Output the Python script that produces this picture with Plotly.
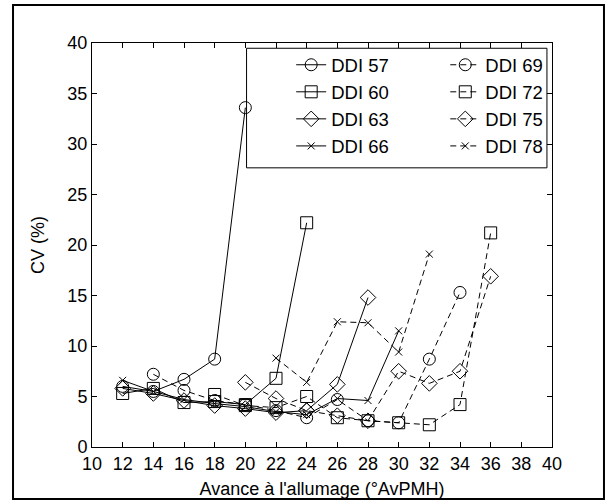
import plotly.graph_objects as go

# Spark advance (°AvPMH) and cyclic variability CV (%) for each injection timing (DDI)
adv_57 = [12, 14, 16, 18, 20]
cv_57 = [6.0, 5.5, 6.7, 8.7, 33.6]

adv_60 = [12, 14, 16, 18, 20, 22, 24]
cv_60 = [5.3, 5.8, 4.4, 4.5, 4.2, 6.8, 22.2]

adv_63 = [12, 14, 16, 18, 20, 22, 24, 26, 28]
cv_63 = [5.8, 5.3, 4.6, 4.1, 3.8, 3.4, 3.6, 6.2, 14.8]

adv_66 = [12, 14, 16, 18, 20, 22, 24, 26, 28, 30]
cv_66 = [6.6, 5.5, 4.7, 4.3, 4.0, 3.5, 3.2, 4.8, 4.6, 11.5]

adv_69 = [14, 16, 18, 20, 22, 24, 26, 28, 30, 32, 34]
cv_69 = [7.2, 5.6, 4.6, 4.2, 3.6, 2.9, 4.7, 2.6, 2.4, 8.7, 15.3]

adv_72 = [18, 20, 22, 24, 26, 28, 30, 32, 34, 36]
cv_72 = [5.2, 4.1, 3.9, 5.0, 2.9, 2.6, 2.4, 2.2, 4.2, 21.2]

adv_75 = [20, 22, 24, 26, 28, 30, 32, 34, 36]
cv_75 = [6.4, 4.8, 3.6, 3.1, 2.6, 7.5, 6.3, 7.5, 16.9]

adv_78 = [22, 24, 26, 28, 30, 32]
cv_78 = [8.8, 6.4, 12.4, 12.3, 9.4, 19.1]

x_ticks = list(range(10, 41, 2))
y_ticks = list(range(0, 41, 5))

FONT = "Liberation Sans, Arial, sans-serif"

series = [
    ("DDI 57", adv_57, cv_57, "circle-open", 12, "solid", "legend"),
    ("DDI 60", adv_60, cv_60, "square-open", 12, "solid", "legend"),
    ("DDI 63", adv_63, cv_63, "diamond-open", 12, "solid", "legend"),
    ("DDI 66", adv_66, cv_66, "x-thin-open", 7, "solid", "legend"),
    ("DDI 69", adv_69, cv_69, "circle-open", 12, "6px,4px", "legend2"),
    ("DDI 72", adv_72, cv_72, "square-open", 12, "6px,4px", "legend2"),
    ("DDI 75", adv_75, cv_75, "diamond-open", 12, "6px,4px", "legend2"),
    ("DDI 78", adv_78, cv_78, "x-thin-open", 7, "6px,4px", "legend2"),
]

fig = go.Figure()
for name, xs, ys, sym, size, dash, leg in series:
    fig.add_trace(go.Scatter(
        x=xs, y=ys, name=name, mode="lines+markers",
        line=dict(color="black", width=1, dash=dash),
        marker=dict(symbol=sym, size=size, color="black",
                    line=dict(color="black", width=1)),
        legend=leg,
    ))

axis_common = dict(
    showgrid=False, zeroline=False, showline=True, linecolor="black",
    linewidth=1, mirror="ticks", ticks="inside", ticklen=5,
    tickcolor="black", tickfont=dict(family=FONT, size=18, color="black"),
    automargin=False,
)

fig.update_layout(
    width=611, height=504,
    margin=dict(l=92, r=59, t=43, b=57),
    paper_bgcolor="white", plot_bgcolor="white",
    font=dict(family=FONT, color="black"),
    xaxis=dict(range=[10, 40], tickvals=x_ticks,
               title=dict(text="Avance à l'allumage (°AvPMH)",
                          font=dict(family=FONT, size=18), standoff=9),
               **axis_common),
    yaxis=dict(range=[0, 40], tickvals=y_ticks,
               title=dict(text="CV (%)", font=dict(family=FONT, size=18),
                          standoff=18),
               **axis_common),
    legend=dict(x=0.433, y=0.992, xanchor="left", yanchor="top",
                bgcolor="rgba(0,0,0,0)", borderwidth=0,
                font=dict(family=FONT, size=18.5), tracegroupgap=0),
    legend2=dict(x=0.768, y=0.992, xanchor="left", yanchor="top",
                 bgcolor="rgba(0,0,0,0)", borderwidth=0,
                 font=dict(family=FONT, size=18.5), tracegroupgap=0),
    shapes=[
        # legend box
        dict(type="rect", xref="paper", yref="paper",
             x0=0.336, x1=0.989, y0=0.691, y1=0.987,
             line=dict(color="black", width=1), fillcolor="white", layer="below"),
        # outer figure frame
        dict(type="rect", xref="paper", yref="paper",
             x0=-0.1717, x1=1.113, y0=-0.1287, y1=1.094,
             line=dict(color="black", width=2)),
    ],
)

fig.write_html("out.html")
